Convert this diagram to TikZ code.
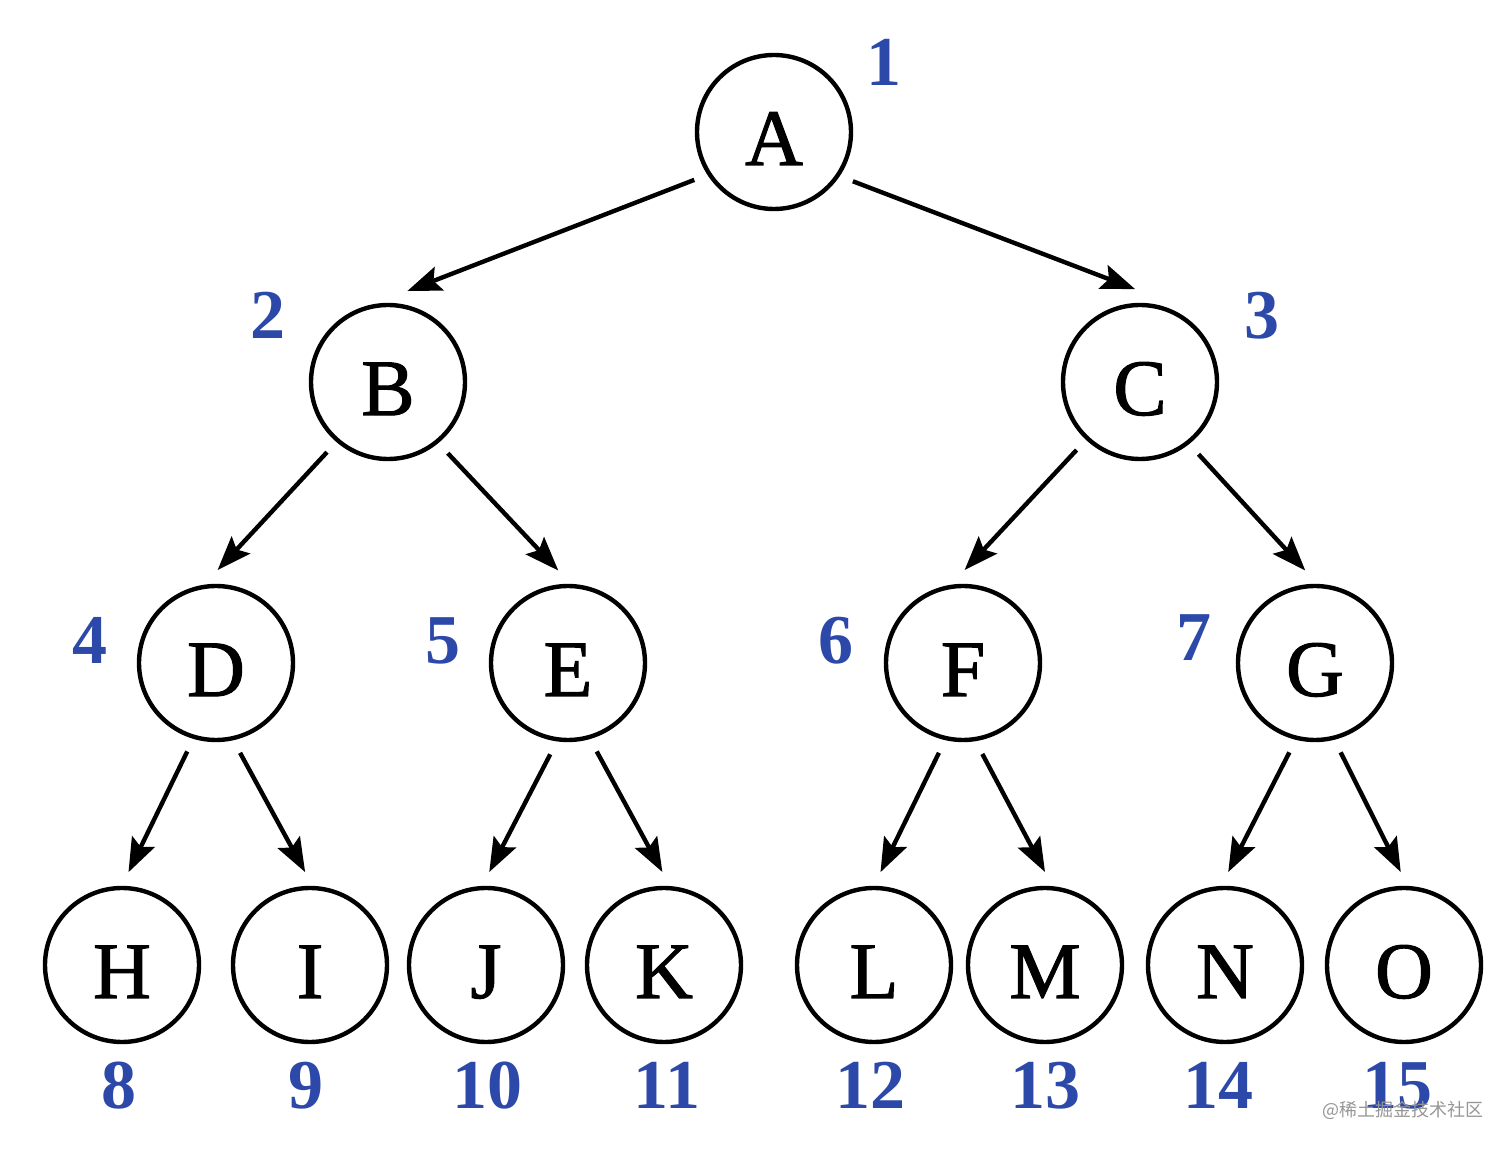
\documentclass[tikz,border=0pt]{standalone}
\usepackage{fontspec}
\setmainfont{Liberation Serif}
\newfontfamily\nodefont[FakeBold=1.3]{Liberation Serif}
\newfontfamily\cjk{Noto Sans CJK SC}
\usetikzlibrary{arrows.meta}
\definecolor{numblue}{RGB}{44,72,168}
\definecolor{wmgray}{RGB}{150,150,150}
\begin{document}
\begin{tikzpicture}[x=0.5pt,y=-0.5pt,
  vtx/.style={circle,draw,line width=2.2pt,minimum size=77pt,inner sep=0pt,outer sep=8pt,
    text height=33pt,text depth=0pt,font=\nodefont\fontsize{40}{40}\selectfont},
  num/.style={text=numblue,inner sep=0pt,text height=23.7pt,text depth=0pt,
    font=\bfseries\fontsize{35}{35}\selectfont},
  edge/.style={line width=2.2pt,-{Stealth[length=17pt,width=12.5pt,inset=3pt]}}]
\useasboundingbox[fill=white] (0,0) rectangle (1512,1149);
% vertices
\node[vtx] (A) at (774,132) {A};
\node[vtx] (B) at (388,382) {B};
\node[vtx] (C) at (1140,382) {C};
\node[vtx] (D) at (216,663) {D};
\node[vtx] (E) at (568,663) {E};
\node[vtx] (F) at (963,663) {F};
\node[vtx] (G) at (1315,663) {G};
\node[vtx] (H) at (122,965) {H};
\node[vtx] (I) at (310,965) {I};
\node[vtx] (J) at (486,965) {J};
\node[vtx] (K) at (664,965) {K};
\node[vtx] (L) at (874,965) {L};
\node[vtx] (M) at (1045,965) {M};
\node[vtx] (N) at (1225,965) {N};
\node[vtx] (O) at (1404,965) {O};
% numbers
\node[num] (n1) at (884,62) {1};
\node[num] (n2) at (268,315) {2};
\node[num] (n3) at (1262,315) {3};
\node[num] (n4) at (90,640) {4};
\node[num] (n5) at (443,640) {5};
\node[num] (n6) at (836,640) {6};
\node[num] (n7) at (1194,637) {7};
\node[num] (n8) at (119,1085) {8};
\node[num] (n9) at (306,1085) {9};
\node[num] (n10) at (487,1085) {10};
\node[num] (n11) at (667,1085) {11};
\node[num] (n12) at (870,1085) {12};
\node[num] (n13) at (1045,1085) {13};
\node[num] (n14) at (1218,1085) {14};
\node[num] (n15) at (1397,1085) {15};
% edges
\draw[edge] (A.211) -- (B.78);
\draw[edge] (A.328) -- (C.93);
\draw[edge] (B.229) -- (D.89);
\draw[edge] (B.310) -- (E.96);
\draw[edge] (C.227) -- (F.89);
\draw[edge] (C.309) -- (G.96);
\draw[edge] (D.252) -- (H.86);
\draw[edge] (D.285) -- (I.93);
\draw[edge] (E.259) -- (J.88);
\draw[edge] (E.288) -- (K.91);
\draw[edge] (F.255) -- (L.86);
\draw[edge] (F.282) -- (M.90);
\draw[edge] (G.254) -- (N.88);
\draw[edge] (G.286) -- (O.92);
% watermark
\node[text=wmgray,inner sep=0pt,font=\cjk\fontsize{9}{9}\selectfont] (wm) at (1403,1110) {@稀土掘金技术社区};
\end{tikzpicture}
\end{document}
